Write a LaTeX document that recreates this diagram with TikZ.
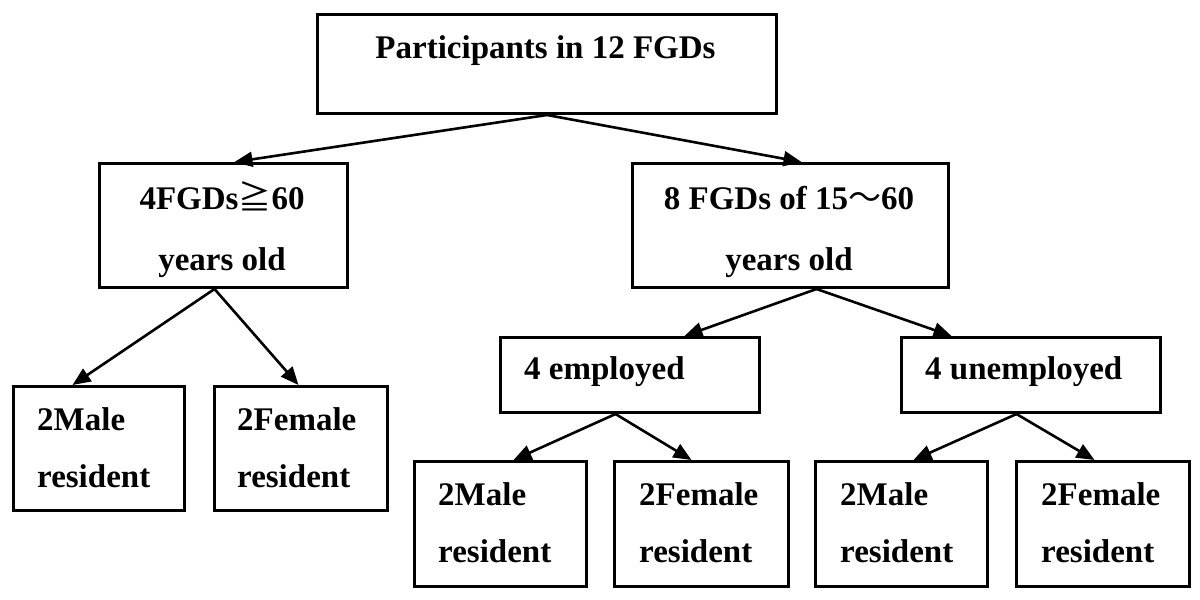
\documentclass[tikz,border=0pt]{standalone}
\usepackage{fontspec}
\setmainfont{Liberation Serif}
\newfontfamily\cjkfont{Noto Sans CJK SC}
\usetikzlibrary{arrows.meta}
\begin{document}
\begin{tikzpicture}[x=1pt,y=-1pt,
  box/.style={draw, line width=3pt, inner sep=0pt, anchor=north west},
  txt/.style={inner sep=0pt, font=\fontsize{33}{40}\selectfont\bfseries},
  arr/.style={line width=2.6pt, -{Triangle[length=18pt,width=15pt]}}]
\useasboundingbox (0,0) rectangle (1200,600);
% boxes
\node[box, minimum width=459pt, minimum height=99pt] (top) at (316,13) {};
\node[box, minimum width=248pt, minimum height=124pt] (g4) at (98,162) {};
\node[box, minimum width=316pt, minimum height=124pt] (g8) at (631,162) {};
\node[box, minimum width=171pt, minimum height=124pt] (l1) at (12,385) {};
\node[box, minimum width=173pt, minimum height=124pt] (l2) at (213,385) {};
\node[box, minimum width=259pt, minimum height=75pt] (emp) at (499,336) {};
\node[box, minimum width=259pt, minimum height=75pt] (unemp) at (900,336) {};
\node[box, minimum width=172pt, minimum height=125pt] (e1) at (413,460) {};
\node[box, minimum width=174pt, minimum height=125pt] (e2) at (613,460) {};
\node[box, minimum width=172pt, minimum height=125pt] (u1) at (814,460) {};
\node[box, minimum width=173pt, minimum height=125pt] (u2) at (1015,460) {};
% texts
\node[txt, anchor=base] (top-t) at (545.5,58) {Participants in 12 FGDs};
\node[txt, anchor=base] (g4-t1) at (222,209) {4FGDs{\cjkfont\mdseries ≧}60};
\node[txt, anchor=base] (g4-t2) at (222,270) {years old};
\node[txt, anchor=base] (g8-t1) at (789,209) {8 FGDs of 15{\cjkfont\mdseries ～}60};
\node[txt, anchor=base] (g8-t2) at (789,270) {years old};
\node[txt, anchor=base west] (emp-t) at (524,379) {4 employed};
\node[txt, anchor=base west] (unemp-t) at (925,379) {4 unemployed};
\node[txt, anchor=base west] (l1-t1) at (37,430) {2Male};
\node[txt, anchor=base west] (l1-t2) at (37,487) {resident};
\node[txt, anchor=base west] (l2-t1) at (237,430) {2Female};
\node[txt, anchor=base west] (l2-t2) at (237,487) {resident};
\node[txt, anchor=base west] (e1-t1) at (438,505) {2Male};
\node[txt, anchor=base west] (e1-t2) at (438,562) {resident};
\node[txt, anchor=base west] (e2-t1) at (639,505) {2Female};
\node[txt, anchor=base west] (e2-t2) at (639,562) {resident};
\node[txt, anchor=base west] (u1-t1) at (840,505) {2Male};
\node[txt, anchor=base west] (u1-t2) at (840,562) {resident};
\node[txt, anchor=base west] (u2-t1) at (1041,505) {2Female};
\node[txt, anchor=base west] (u2-t2) at (1041,562) {resident};
% connectors
\draw[arr] (top.south) -- ([xshift=11pt]g4.north);
\draw[arr] (top.south) -- ([xshift=11pt]g8.north);
\draw[arr] ([xshift=-9pt]g4.south) -- ([xshift=-26.5pt]l1.north);
\draw[arr] ([xshift=-9pt]g4.south) -- ([xshift=-2.5pt]l2.north);
\draw[arr] ([xshift=26pt]g8.south) -- ([xshift=54.5pt]emp.north);
\draw[arr] ([xshift=26pt]g8.south) -- ([xshift=-79.5pt]unemp.north);
\draw[arr] ([xshift=-14.5pt]emp.south) -- ([xshift=13pt]e1.north);
\draw[arr] ([xshift=-14.5pt]emp.south) -- ([xshift=-10pt]e2.north);
\draw[arr] ([xshift=-14.5pt]unemp.south) -- ([xshift=12pt]u1.north);
\draw[arr] ([xshift=-14.5pt]unemp.south) -- ([xshift=-8.5pt]u2.north);
\end{tikzpicture}
\end{document}
